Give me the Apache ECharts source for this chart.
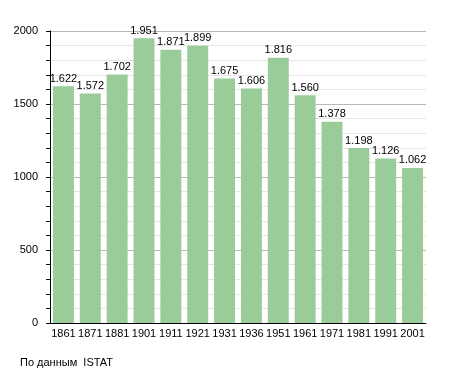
<!DOCTYPE html>
<html>
<head>
<meta charset="utf-8">
<script src="https://cdn.jsdelivr.net/npm/echarts@6/dist/echarts.min.js"></script>
<style>
html,body{margin:0;padding:0;background:#fff;}
#c{width:455px;height:373px;}
</style>
</head>
<body>
<div id="c"></div>
<script>
const categories = ["1861","1871","1881","1901","1911","1921","1931","1936","1951","1961","1971","1981","1991","2001"];
const population = [1622,1572,1702,1951,1871,1899,1675,1606,1816,1560,1378,1198,1126,1062];
const yTicks = [0,500,1000,1500,2000];
const sourceText = "По данным  ISTAT";

const font = "'Liberation Sans', Arial, sans-serif";
const chart = echarts.init(document.getElementById('c'), null, {renderer:'canvas'});
chart.setOption({
  animation:false,
  backgroundColor:'#ffffff',
  grid:{left:50,right:29,top:31,bottom:50,containLabel:false},
  graphic:[{type:'text',left:20,top:357,style:{text:sourceText,font:'11px '+font,fill:'#000'}}],
  xAxis:{
    type:'category',data:categories,
    axisLine:{lineStyle:{color:'#000',width:1}},
    axisTick:{show:false},
    axisLabel:{color:'#000',fontFamily:font,fontSize:11,margin:5,interval:0}
  },
  yAxis:{
    type:'value',min:yTicks[0],max:yTicks[yTicks.length-1],interval:500,
    axisLine:{show:true,lineStyle:{color:'#000',width:1}},
    axisTick:{show:true,length:4,lineStyle:{color:'#000'}},
    minorTick:{show:true,splitNumber:5,length:4,lineStyle:{color:'#000'}},
    splitLine:{show:true,lineStyle:{color:'#b8b8b8',width:1}},
    minorSplitLine:{show:true,lineStyle:{color:'#e6e6e6',width:1}},
    axisLabel:{color:'#000',fontFamily:font,fontSize:11,margin:12,formatter:v=>String(v)}
  },
  series:[{
    type:'bar',data:population,barCategoryGap:'22%',
    itemStyle:{color:'#99cc99'},
    label:{show:true,position:'top',distance:2,color:'#000',fontFamily:font,fontSize:11,
      formatter:p=>{const v=p.value;return v>=1000?Math.floor(v/1000)+'.'+String(v%1000).padStart(3,'0'):String(v);}}
  }]
});
</script>
</body>
</html>
